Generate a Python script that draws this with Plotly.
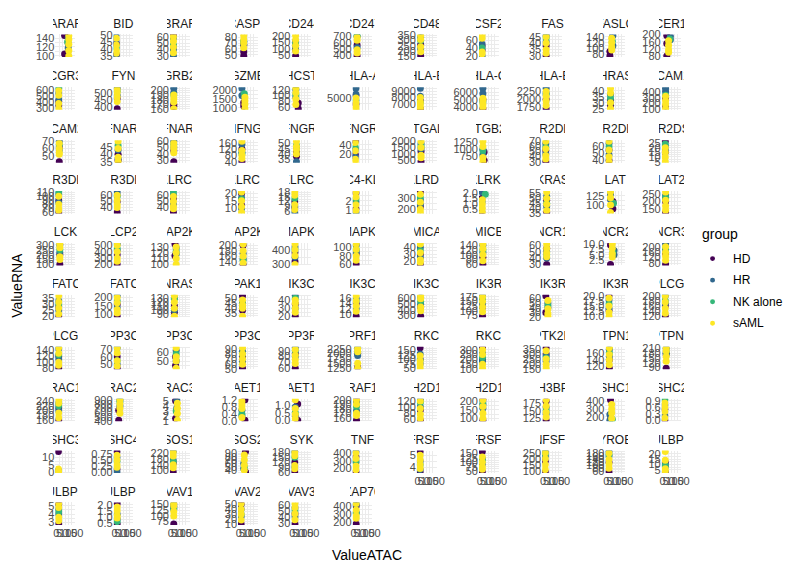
import plotly.graph_objects as go

GENES = ["ARAF","BID","BRAF","CASP3","CD244","CD247","CD48","CSF2","FAS","FASLG","FCER1G",
 "FCGR3A","FYN","GRB2","GZMB","HCST","HLA-A","HLA-B","HLA-C","HLA-E","HRAS","ICAM1",
 "ICAM2","IFNAR1","IFNAR2","IFNG","IFNGR1","IFNGR2","ITGAL","ITGB2","KIR2DL1","KIR2DL4","KIR2DS4",
 "KIR3DL1","KIR3DL2","KLRC1","KLRC2","KLRC3","KLRC4-KLRK1","KLRD1","KLRK1","KRAS","LAT","LAT2",
 "LCK","LCP2","MAP2K1","MAP2K2","MAPK1","MAPK3","MICA","MICB","NCR1","NCR2","NCR3",
 "NFATC1","NFATC2","NRAS","PAK1","PIK3CA","PIK3CB","PIK3CD","PIK3R1","PIK3R2","PIK3R3","PLCG1",
 "PLCG2","PPP3CA","PPP3CB","PPP3CC","PPP3R1","PRF1","PRKCA","PRKCB","PTK2B","PTPN11","PTPN6",
 "RAC1","RAC2","RAC3","RAET1E","RAET1G","RAF1","SH2D1A","SH2D1B","SH3BP2","SHC1","SHC2",
 "SHC3","SHC4","SOS1","SOS2","SYK","TNF","TNFRSF10A","TNFRSF10B","TNFSF10","TYROBP","ULBP1",
 "ULBP2","ULBP3","VAV1","VAV2","VAV3","ZAP70"]

Y_TICKS = [
 [100,120,140],[35,40,45,50],[30,40,50,60],[50,60,70,80],[50,100,150,200],[400,500,600,700],[150,200,250,300,350],[20,40,60],[30,35,40,45],[80,100,120,140],[80,120,160,200],
 [300,400,500,600],[400,450,500],[160,170,180,190,200],[1000,1500,2000],[60,80,100,120],[4000,5000],[6000,7000,8000,9000],[4000,5000,6000],[1750,2000,2250],[25,30,35,40],[100,200,300,400],
 [40,50,60,70],[35,40,45],[30,40,50,60],[40,80,120,160],[35,40,45,50],[0,20,40],[500,1000,1500,2000],[500,750,1000,1250],[30,40,50,60,70],[30,40,50,60,70],[5,10,15,20,25],
 [60,70,80,90,100,110],[30,40,50,60],[30,40,50,60],[10,15,20],[6,9,12,15,18],[1,2],[200,300],[0.5,1.0,1.5,2.0],[35,40,45,50,55],[50,75,100,125],[150,200,250],
 [100,150,200,250,300],[200,300,400,500],[100,110,120,130],[120,140,160,180,200],[300,400],[60,80,100],[20,30,40],[60,80,100,120,140],[30,40,50,60],[2.5,5.0,7.5,10.0],[80,120,160,200],
 [20,25,30,35],[100,150,200],[80,90,100,110,120,130],[35,40,45,50],[20,30,40],[10,12,14,16],[300,400,500,600],[75,100,125,150,175],[20,30,40,50,60],[10.0,12.5,15.0,17.5,20.0],[120,140,160,180,200],
 [80,100,120,140],[40,50,60,70],[40,50,60],[50,60,70,80,90],[60,70,80,90],[1250,1500,1750,2000,2250],[50,75,100,125,150],[100,150,200,250,300],[150,200,250,300,350],[120,140,160],[90,120,150,180,210],
 [160,180,200,220,240],[400,500,600,700,800,900],[1,2,3,4,5],[0.0,0.4,0.8,1.2],[0.0,0.5,1.0,1.5],[160,170,180,190,200],[60,80,100,120],[100,150,200],[125,150,175],[200,300,400],[0.0,0.3,0.6,0.9],
 [0,5,10],[0.00,0.25,0.50,0.75],[100,140,180,220],[30,40,50,60,70,80,90],[60,90,120,150,180],[200,300,400],[4,5],[50,75,100,125,150],[100,150,200,250],[60,80,100,120,140,160,180],[5,10,15,20],
 [3,4,5],[0.5,1.0,1.5,2.0],[75,100,125,150],[10,20,30,40,50],[30,40,50,60],[200,300,400]]

HD_RNA = [
 [146,104],[36,44],[62,45],[55,48,66],[48,95],[380,560],[150,260],[35,45],[30,38],[75,90],[195,80,150],
 [350,420],[390,460],[165,170],[1100,1300],[75,55],[4500,5200],[6200,7500],[3800,5000],[1700,2000],[32,28],[150,300],
 [42,62],[40,36],[28,45],[40,120],[42,38],[48,20],[400,1200],[900,600],[30,52],[40,55],[27,15],
 [60,90],[32,50],[32,55],[20,12],[12,8],[2.8,1.2],[350,220],[0.3,1.5],[36,48],[110,90],[125,200],
 [100,200],[200,350],[135,115],[200,130],[320,380],[60,85],[15,30],[60,90],[30,55],[0.5,9.5],[70,150],
 [20,28],[90,160],[95,110],[52,38],[20,35],[9,14],[280,450],[70,120],[65,30],[20,13],[118,160],
 [80,120],[45,60],[45,55],[52,75],[60,85],[1300,2000],[165,100],[320,200],[360,300],[115,140],[85,180],
 [160,210],[420,650],[5,1.5],[1.2,0.05],[1.1,0.0],[155,200],[55,90],[90,210],[180,120],[420,220],[0.0,0.5],
 [14,1],[0.85,0.1],[90,150],[95,35],[60,120],[150,350],[5.3,3.6],[160,45],[90,180],[55,120],[3,12],
 [2.8,5.2],[2.1,0.4],[65,140],[10,50],[28,45],[180,400]]

HR_RNA = [
 [140,128,118],[50,35,46],[58,30,40],[68,72],[110,130,160],[700,520],[330,220],[20,50],[46,41],[145,110],[190,170],
 [560,450],[530,480],[205,195],[2100,1700],[120,95],[5800,5300],[9500,8200],[6500,5800],[2350,2200],[37,30],[480,420],
 [70,58],[37,43],[60,50],[100,150],[33,46],[30,15],[1800,1400],[1000,800],[65,45],[65,48],[22,18],
 [105,85],[65,60],[60,45],[17,10],[5,9],[0.8,1.9],[280,240],[2.1,1.2],[52,42],[130,115],[240,220],
 [300,220],[520,420],[128,118],[170,150],[420,350],[105,90],[40,25],[140,110],[50,40],[7,5],[220,180],
 [33,25],[210,140],[130,100],[45,42],[45,30],[16,12],[620,500],[180,140],[50,40],[18,14],[200,170],
 [145,110],[72,50],[62,50],[85,65],[95,80],[2300,1900],[130,75],[260,180],[280,230],[170,150],[210,170],
 [230,200],[900,750],[5.2,3.5],[0.6,0.3],[0.3,0.9],[195,175],[125,100],[180,160],[160,140],[160,230],[0.7,0.2],
 [0.5,0.2],[0.0,0.6],[230,170],[45,60],[185,90],[420,280],[4.5,3.8],[120,90],[260,220],[190,160],[10,8],
 [4.6,4.0],[1.2,0.8],[150,130],[40,25],[55,40],[420,320]]

NK_RNA = [
 [132],[41],[47],[73],[140],[720],[300],[40],[44],[125],[175],
 [640],[510],[190],[1800],[105],[4800],[7200],[4700],[2150],[34],[350],
 [65],[46],[55],[90],[48],[35],[1600],[950],[58],[60],[24],
 [110],[58],[65],[16],[14],[2.2],[300],[1.9],[45],[105],[230],
 [250],[450],[122],[145],[400],[95],[35],[120],[45],[6],[190],
 [30],[180],[128],[44],[42],[15],[550],[160],[45],[16],[180],
 [125],[55],[58],[80],[90],[2100],[95],[220],[260],[160],[190],
 [220],[850],[3],[0.4],[0.5],[185],[115],[190],[150],[170],[0.95],
 [0.3],[0.45],[160],[50],[150],[300],[4.2],[110],[240],[170],[9],
 [4.3],[0.6],[135],[30],[50],[310]]

SAML_RNA = [
 [145,137,126,112,100],[48,43,39,37],[60,53,44,35],[83,76,70,62],[205,170,125,85],[690,640,480,430],[350,310,240,190],[72,65,30,25],[45,40,35,32],[135,120,105,95],[165,140,115,100],
 [600,520,380,290],[520,500,470,440],[190,182,175,160],[1600,1400,1200,950],[125,110,88,70],[5000,4600,4300,4100],[8000,7300,6800,6300],[5200,4900,4400,4000],[2250,2100,1950,1800],[42,38,30,25],[330,250,180,100],
 [67,60,55,52],[49,44,38,35],[57,52,48,42],[170,110,80,60],[52,47,44,40],[45,28,10,5],[2000,1500,900,700],[1300,1100,700,550],[70,55,42,35],[68,55,45,38],[20,15,10,5],
 [100,80,70,65],[60,52,45,40],[58,50,42,38],[21,15,11,7],[18,16,10,7],[2.9,2.4,1.6,1.0],[330,260,200,170],[1.4,1.0,0.6,0.2],[56,50,44,38],[135,120,100,80],[265,210,170,140],
 [310,270,180,150],[500,400,300,250],[130,120,110,100],[205,180,160,135],[440,400,360,300],[108,95,80,70],[45,32,22,18],[145,125,100,75],[62,55,48,42],[10,8,5.5,4],[200,160,130,100],
 [37,32,27,22],[200,170,130,110],[135,120,105,85],[48,43,40,32],[40,36,30,25],[17,15,13,11],[650,600,450,380],[175,150,120,95],[55,38,28,22],[19,15,12,10],[200,175,150,130],
 [148,130,100,90],[72,65,55,48],[65,55,50,42],[92,80,70,60],[92,82,75,68],[2250,2100,1500,1250],[120,90,70,50],[300,250,150,110],[330,250,200,160],[175,155,140,125],[215,195,160,130],
 [245,230,190,170],[900,800,700,580],[4.5,3.5,2.5,1.2],[1.1,0.9,0.7,0.2],[1.4,0.8,0.4,0.1],[200,190,170,165],[120,95,75,60],[210,170,130,100],[185,165,145,130],[360,300,250,180],[0.8,0.6,0.4,0.1],
 [2,0.5,0.1,0],[0.7,0.5,0.3,0.2],[225,200,140,120],[85,70,55,40],[180,160,100,80],[400,330,230,180],[5,4.6,4.2,3.9],[130,100,75,60],[250,200,150,110],[180,140,110,80],[22,14,6,4],
 [5.3,4.8,3.6,3.2],[1.8,1.5,1.1,0.9],[155,145,120,100],[52,40,30,18],[62,55,45,35],[430,350,280,250]]

# ATAC value per gene for groups HD, HR, NK alone, sAML
ATAC = [
 [70,100,95,105],[15,12,15,15],[22,22,22,22],[40,40,40,40],[28,28,28,28],[30,30,30,30],[25,25,25,25],[18,18,18,18],[25,25,25,25],[30,55,50,45],[35,65,60,50],
 [20,20,20,20],[22,22,22,22],[25,25,25,25],[40,25,45,50],[50,30,30,30],[20,20,20,20],[22,22,22,22],[25,25,25,25],[25,25,25,25],[35,35,35,35],[25,25,25,25],
 [25,25,25,25],[30,30,30,30],[25,25,25,25],[25,25,25,25],[35,35,35,35],[15,15,15,15],[28,28,28,28],[35,25,25,25],[22,22,22,22],[22,22,22,22],[22,22,22,22],
 [20,20,20,20],[22,22,22,22],[22,22,22,22],[22,22,22,22],[20,20,20,20],[20,20,20,20],[22,22,22,22],[15,18,45,20],[30,30,30,30],[55,35,60,35],[25,25,25,25],
 [30,30,30,30],[22,22,22,22],[35,45,45,45],[35,35,35,35],[22,22,22,22],[22,22,22,22],[22,22,22,22],[25,25,25,25],[30,30,30,30],[35,65,55,50],[25,25,25,25],
 [20,20,20,20],[22,22,22,22],[30,30,30,30],[30,30,30,30],[25,25,25,25],[22,22,22,22],[25,25,25,25],[22,22,22,22],[22,40,40,40],[22,22,22,22],[22,22,22,22],
 [20,20,20,20],[22,22,22,22],[40,45,45,45],[30,30,30,30],[25,25,25,25],[35,35,35,35],[20,20,20,20],[22,22,22,22],[25,25,25,25],[25,25,25,25],[30,30,30,30],
 [20,20,20,20],[35,45,45,45],[40,50,45,55],[50,25,25,25],[45,25,25,25],[25,25,25,25],[22,22,22,22],[25,25,25,25],[25,25,25,25],[35,30,50,45],[18,18,18,18],
 [18,18,18,18],[20,20,20,20],[20,20,20,20],[55,40,45,45],[20,20,20,20],[20,20,20,20],[20,20,20,20],[20,20,20,20],[18,18,18,18],[22,22,22,22],[22,22,22,22],
 [20,20,20,20],[22,22,22,22],[25,25,25,25],[18,18,18,18],[22,22,22,22],[22,22,22,22]]

X_TICKS = [0, 50, 100, 150]
GROUPS = ["HD", "HR", "NK alone", "sAML"]
COLORS = ["#440154", "#31688E", "#35B779", "#FDE725"]

# ---- layout geometry (pixels) ----
W, H = 804, 575
NCOL = 11
COL_LEFT = [54, 113, 170, 239, 293, 355, 420, 483, 547, 611, 668]
ROW_TOP = [29, 83, 137, 189, 242, 295, 348, 401, 454, 507]
PW, PH = 20, 23
STRIP_W = 25
X_RANGE = [-7.5, 157.5]
FONT = "Liberation Sans, Arial, sans-serif"
GRID = "#EBEBEB"

def px(x):
    return x / W

def py(y):
    return 1 - y / H

def fmt_ticks(vals):
    dec = 0
    for v in vals:
        s = ("%.6f" % v).rstrip("0")
        d = len(s.split(".")[1]) if "." in s else 0
        dec = max(dec, d)
    if any(isinstance(v, float) for v in vals):
        dec = max(dec, 1)
    if vals == [0.00, 0.25, 0.50, 0.75]:
        dec = 2
    return [("%." + str(dec) + "f") % v for v in vals]

fig = go.Figure()
layout = dict(
    width=W, height=H, margin=dict(l=0, r=0, t=0, b=0),
    paper_bgcolor="white", plot_bgcolor="white", showlegend=False,
    font=dict(family=FONT),
)
annotations = []
shapes = []
n = len(GENES)
group_data = [HD_RNA, HR_RNA, NK_RNA, SAML_RNA]

for i, gene in enumerate(GENES):
    r, c = divmod(i, NCOL)
    k = i + 1
    xa = "x" if k == 1 else "x%d" % k
    ya = "y" if k == 1 else "y%d" % k
    allv = []
    for gi, g in enumerate(GROUPS):
        yv = group_data[gi][i]
        allv += yv
        fig.add_trace(go.Scatter(
            x=[ATAC[i][gi]] * len(yv), y=yv, mode="markers", xaxis=xa, yaxis=ya,
            marker=dict(color=COLORS[gi], size=7, line=dict(width=0)),
            name=g, showlegend=False, cliponaxis=True,
        ))
    lo, hi = min(allv), max(allv)
    pad = 0.05 * (hi - lo if hi > lo else 1)
    ticks = Y_TICKS[i]
    minor_y = [(a + b) / 2 for a, b in zip(ticks[:-1], ticks[1:])]
    step = ticks[1] - ticks[0] if len(ticks) > 1 else 1
    minor_y = [ticks[0] - step / 2] + minor_y + [ticks[-1] + step / 2]
    x0 = COL_LEFT[c]
    y0 = ROW_TOP[r]
    bottom = (i + NCOL) >= n
    layout["xaxis" if k == 1 else "xaxis%d" % k] = dict(
        domain=[px(x0), px(x0 + PW)], anchor=ya, range=X_RANGE,
        tickmode="array", tickvals=X_TICKS, ticktext=[str(v) for v in X_TICKS],
        showticklabels=bottom, tickangle=0, ticks="", ticklen=0,
        tickfont=dict(size=11, color="#4D4D4D", family=FONT),
        showgrid=True, gridcolor=GRID, gridwidth=1, zeroline=False, showline=False,
        minor=dict(tickvals=[25, 75, 125], showgrid=True, gridcolor=GRID, gridwidth=0.5),
        fixedrange=True,
    )
    layout["yaxis" if k == 1 else "yaxis%d" % k] = dict(
        domain=[py(y0 + PH), py(y0)], anchor=xa, range=[lo - pad, hi + pad],
        tickmode="array", tickvals=ticks, ticktext=fmt_ticks(ticks),
        ticks="", ticklen=0,
        tickfont=dict(size=11, color="#4D4D4D", family=FONT),
        showgrid=True, gridcolor=GRID, gridwidth=1, zeroline=False, showline=False,
        minor=dict(tickvals=minor_y, showgrid=True, gridcolor=GRID, gridwidth=0.5),
        fixedrange=True,
    )
    annotations.append(dict(
        text=gene, x=px(x0 + PW / 2), y=py(y0 - 11), xref="paper", yref="paper",
        xanchor="center", yanchor="middle", showarrow=False, width=STRIP_W, align="center",
        font=dict(size=12, color="#1A1A1A", family=FONT),
    ))

# axis titles
annotations.append(dict(text="ValueATAC", x=px(370), y=py(561), xref="paper", yref="paper",
                        xanchor="center", yanchor="middle", showarrow=False,
                        font=dict(size=14, color="black", family=FONT)))
annotations.append(dict(text="ValueRNA", x=px(15), y=py(285), xref="paper", yref="paper",
                        xanchor="center", yanchor="middle", showarrow=False, textangle=-90,
                        font=dict(size=14, color="black", family=FONT)))

# legend (drawn by hand)
annotations.append(dict(text="group", x=px(707), y=py(233), xref="paper", yref="paper",
                        xanchor="left", yanchor="middle", showarrow=False,
                        font=dict(size=14, color="black", family=FONT)))
LEG_Y = [258, 280, 302, 324]
for gi, g in enumerate(GROUPS):
    cy = LEG_Y[gi]
    shapes.append(dict(type="circle", xref="paper", yref="paper",
                       x0=px(717), x1=px(722), y0=py(cy + 2.5), y1=py(cy - 2.5),
                       fillcolor=COLORS[gi], line=dict(width=0)))
    annotations.append(dict(text=g, x=px(738), y=py(cy), xref="paper", yref="paper",
                            xanchor="left", yanchor="middle", showarrow=False,
                            font=dict(size=12, color="black", family=FONT)))

layout["annotations"] = annotations
layout["shapes"] = shapes
fig.update_layout(**layout)
fig.write_html("out.html")
